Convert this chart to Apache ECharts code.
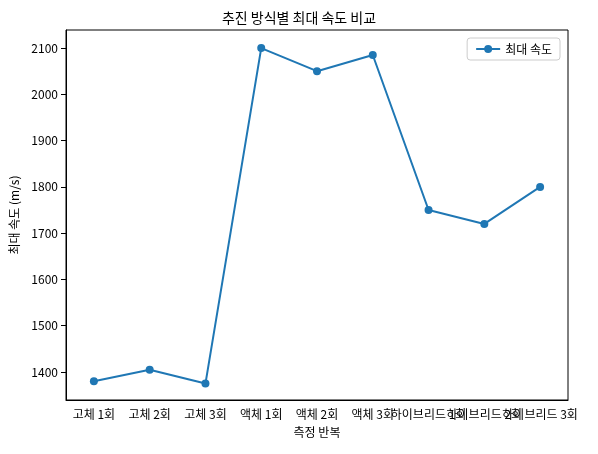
<!DOCTYPE html><html><head><meta charset="utf-8"><script src="https://cdn.jsdelivr.net/npm/echarts@6/dist/echarts.min.js"></script></head><body style="margin:0"><div id="c" style="width:598px;height:454px"></div><script>
const categories=['고체 1회','고체 2회','고체 3회','액체 1회','액체 2회','액체 3회','하이브리드 1회','하이브리드 2회','하이브리드 3회'];
const speeds=[1380,1405,1375,2100,2050,2085,1750,1720,1800];
const F='Noto Sans CJK KR';
const ch=echarts.init(document.getElementById('c'));
ch.setOption({
textStyle:{fontFamily:F},
title:{text:'추진 방식별 최대 속도 비교',left:'center',top:6,textStyle:{fontFamily:F,fontSize:14,fontWeight:'normal',color:'#000'}},
legend:{right:38,top:38,itemWidth:24,itemHeight:10,borderColor:'#ccc',borderWidth:1,borderRadius:3,padding:[5,8],textStyle:{fontFamily:F,fontSize:12,color:'#000'},data:['최대 속도']},
grid:{left:66,right:30,top:30,bottom:54,show:true,borderColor:'#000',borderWidth:1},
xAxis:{type:'category',data:categories,boundaryGap:true,name:'측정 반복',nameLocation:'middle',nameGap:26,nameTextStyle:{fontFamily:F,fontSize:12,color:'#000'},
axisLine:{lineStyle:{color:'#000'}},axisTick:{alignWithLabel:true,lineStyle:{color:'#000'}},axisLabel:{interval:0,color:'#000',fontSize:12,fontFamily:F},splitLine:{show:false}},
yAxis:{type:'value',min:1339.5,max:2139,minInterval:100,maxInterval:100,name:'최대 속도 (m/s)',nameLocation:'middle',nameGap:42,nameTextStyle:{fontFamily:F,fontSize:12,color:'#000'},
axisLine:{show:true,lineStyle:{color:'#000'}},axisTick:{show:true,lineStyle:{color:'#000'}},axisLabel:{color:'#000',fontSize:12,fontFamily:F,showMinLabel:false,showMaxLabel:false,formatter:v=>String(v)},splitLine:{show:false}},
series:[{name:'최대 속도',type:'line',data:speeds,color:'#1f77b4',symbol:'circle',symbolSize:8,lineStyle:{width:2},itemStyle:{color:'#1f77b4'}}]
});
</script></body></html>
